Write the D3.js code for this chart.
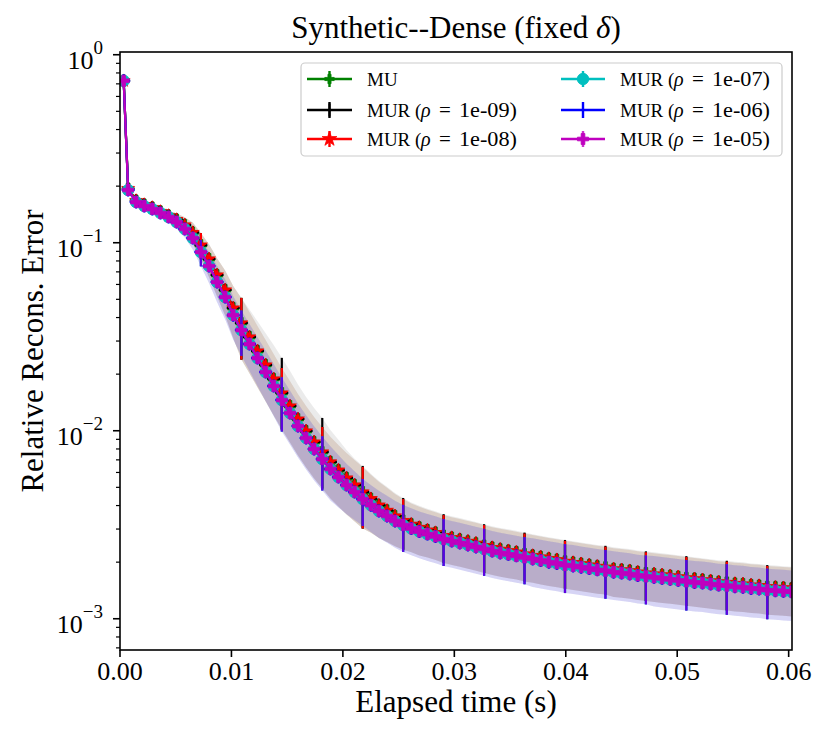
<!DOCTYPE html>
<html><head><meta charset="utf-8">
<script src="https://cdn.jsdelivr.net/npm/d3@7"></script>
<style>body{margin:0;background:#fff} svg{display:block} text{font-family:"Liberation Serif","Times New Roman",serif;fill:#000}</style>
</head><body><svg id="c" width="830" height="743"></svg>
<script>
// ---------- data ----------
const times = [0.00033,0.00073,0.00145,0.00218,0.00290,0.00363,0.00436,0.00508,0.00581,0.00653,0.00726,0.00799,0.00871,0.00944,0.01016,0.01089,0.01162,0.01234,0.01307,0.01379,0.01452,0.01525,0.01597,0.01670,0.01742,0.01815,0.01888,0.01960,0.02033,0.02105,0.02178,0.02251,0.02323,0.02396,0.02468,0.02541,0.02614,0.02686,0.02759,0.02831,0.02904,0.02977,0.03049,0.03122,0.03194,0.03267,0.03340,0.03412,0.03485,0.03557,0.03630,0.03703,0.03775,0.03848,0.03920,0.03993,0.04066,0.04138,0.04211,0.04283,0.04356,0.04429,0.04501,0.04574,0.04646,0.04719,0.04792,0.04864,0.04937,0.05009,0.05082,0.05155,0.05227,0.05300,0.05372,0.05445,0.05518,0.05590,0.05663,0.05735,0.05808,0.05881,0.05953,0.06026];

// MU, MUR 1e-09, MUR 1e-08 (slightly higher group)
const upperMean = [0.727,0.1942,0.1676,0.1596,0.1539,0.1466,0.1395,0.1328,0.1242,0.1133,0.0971,0.0819,0.0673,0.0560,0.0449,0.0374,0.0315,0.02653,0.02235,0.01883,0.01586,0.01353,0.01153,0.00996,0.00870,0.00770,0.00682,0.00617,0.00560,0.00514,0.00472,0.00435,0.00402,0.00377,0.00352,0.00333,0.00318,0.00306,0.00296,0.00287,0.00277,0.00270,0.00264,0.00258,0.00252,0.00245,0.00239,0.00234,0.00230,0.00226,0.00221,0.00217,0.00213,0.00209,0.00206,0.00202,0.00199,0.00196,0.00193,0.00190,0.00188,0.00184,0.00182,0.00180,0.00177,0.00175,0.00173,0.00171,0.00169,0.00167,0.00165,0.00163,0.00161,0.00159,0.00157,0.00156,0.00154,0.00153,0.00151,0.00150,0.00148,0.00147,0.00146,0.00145];
// std of MU and MUR 1e-08
const upperStd = [0.0145,0.0058,0.0050,0.0048,0.0062,0.0073,0.0084,0.0106,0.0124,0.0147,0.0155,0.0164,0.0155,0.0151,0.0139,0.0135,0.01134,0.00955,0.00805,0.00678,0.00571,0.00487,0.00415,0.00359,0.00313,0.00277,0.00246,0.00222,0.00202,0.00185,0.00170,0.00148,0.00133,0.00121,0.00109,0.000999,0.000922,0.000887,0.000844,0.000818,0.000789,0.000770,0.000752,0.000735,0.000718,0.000698,0.000681,0.000667,0.000656,0.000644,0.000630,0.000618,0.000607,0.000596,0.000587,0.000576,0.000567,0.000559,0.000550,0.000542,0.000536,0.000534,0.000528,0.000522,0.000513,0.000508,0.000502,0.000496,0.000490,0.000484,0.000479,0.000473,0.000467,0.000461,0.000455,0.000452,0.000447,0.000444,0.000438,0.000435,0.000429,0.000426,0.000423,0.000421];
// upper spread of MUR 1e-09 (larger)
const mur9ErrPlus = [0.0145,0.0058,0.0050,0.0048,0.0062,0.0073,0.0084,0.0106,0.0124,0.0147,0.0155,0.0164,0.0155,0.0151,0.0139,0.0135,0.0126,0.0117,0.0107,0.00979,0.00856,0.00731,0.00611,0.00518,0.00452,0.00400,0.00327,0.00278,0.00230,0.00195,0.00178,0.00156,0.00140,0.00127,0.00115,0.00106,0.000975,0.000935,0.000890,0.000860,0.000830,0.000810,0.000790,0.000772,0.000754,0.000733,0.000715,0.000700,0.000689,0.000676,0.000662,0.000649,0.000637,0.000626,0.000616,0.000605,0.000595,0.000587,0.000578,0.000569,0.000563,0.000561,0.000554,0.000548,0.000539,0.000533,0.000527,0.000521,0.000515,0.000508,0.000503,0.000497,0.000490,0.000484,0.000478,0.000475,0.000469,0.000466,0.000460,0.000457,0.000450,0.000447,0.000444,0.000442];

// MUR 1e-07, 1e-06, 1e-05 (slightly lower group)
const lowerMean = [0.727,0.1907,0.1646,0.1567,0.1511,0.1439,0.1370,0.1288,0.1183,0.1059,0.0892,0.0752,0.0618,0.0514,0.0412,0.0343,0.0289,0.02436,0.02052,0.01729,0.01456,0.01242,0.01059,0.00915,0.00799,0.00707,0.00626,0.00567,0.00514,0.00472,0.00433,0.00402,0.00374,0.00352,0.00331,0.00315,0.00302,0.00291,0.00282,0.00274,0.00265,0.00259,0.00253,0.00247,0.00241,0.00235,0.00229,0.00224,0.00220,0.00216,0.00212,0.00208,0.00204,0.00200,0.00197,0.00193,0.00191,0.00188,0.00185,0.00182,0.00180,0.00177,0.00175,0.00173,0.00170,0.00168,0.00166,0.00164,0.00162,0.00160,0.00158,0.00156,0.00155,0.00153,0.00151,0.00150,0.00148,0.00147,0.00145,0.00144,0.00142,0.00141,0.00140,0.00139];
const lowerStd = [0.0145,0.0057,0.0049,0.0047,0.0060,0.0072,0.0082,0.0103,0.0118,0.0138,0.0143,0.0143,0.0136,0.0123,0.0107,0.00926,0.00809,0.00706,0.00616,0.00536,0.00466,0.00397,0.00339,0.00293,0.00256,0.00226,0.00200,0.00176,0.00154,0.00137,0.00121,0.00113,0.00105,0.000986,0.000927,0.000882,0.000846,0.000815,0.000790,0.000767,0.000742,0.000725,0.000708,0.000692,0.000675,0.000658,0.000641,0.000627,0.000616,0.000605,0.000594,0.000603,0.000592,0.000580,0.000571,0.000560,0.000554,0.000545,0.000537,0.000528,0.000522,0.000513,0.000508,0.000502,0.000493,0.000487,0.000498,0.000492,0.000486,0.000480,0.000474,0.000468,0.000465,0.000459,0.000453,0.000450,0.000444,0.000441,0.000435,0.000432,0.000426,0.000423,0.000420,0.000417];

const xTicks = [0, 0.01, 0.02, 0.03, 0.04, 0.05, 0.06];
const yTicks = [1, 0.1, 0.01, 0.001];
const yTickExp = ["0", "\u22121", "\u22122", "\u22123"];
const errEvery = 5;

const series = [
  {label:"MU", rho:null, color:"#008000", marker:"P", mean:upperMean, plus:upperStd, minus:upperStd, errOp:1},
  {label:"MUR", rho:"1e-09", color:"#000000", marker:"+", mean:upperMean, plus:mur9ErrPlus, minus:upperStd, errOp:1},
  {label:"MUR", rho:"1e-08", color:"#ff0000", marker:"*", mean:upperMean, plus:upperStd, minus:upperStd, errOp:1},
  {label:"MUR", rho:"1e-07", color:"#00bfbf", marker:"o", mean:lowerMean, plus:lowerStd, minus:lowerStd, errOp:1},
  {label:"MUR", rho:"1e-06", color:"#0000ff", marker:"+", mean:lowerMean, plus:lowerStd, minus:lowerStd, errOp:1},
  {label:"MUR", rho:"1e-05", color:"#bf00bf", marker:"P", mean:lowerMean, plus:lowerStd, minus:lowerStd, errOp:0.5}
];

// ---------- layout ----------
const L=120, R=792, T=52, B=650;
const x = d3.scaleLinear().domain([0, 0.0603]).range([L, R]);
const y = d3.scaleLog().domain([6.82e-4, 1.034]).range([B, T]);
const svg = d3.select("#c");

svg.append("defs").append("clipPath").attr("id","clip")
  .append("rect").attr("x",L).attr("y",T).attr("width",R-L).attr("height",B-T);

const plot = svg.append("g").attr("clip-path","url(#clip)");

function drawMarker(g, type, cx, cy, color, scale) {
  scale = scale || 1;
  if (type === "P") {
    g.append("path").attr("d", d3.symbol(d3.symbolCross, 68*scale*scale)())
      .attr("transform",`translate(${cx},${cy})`).attr("fill",color).attr("stroke",color).attr("stroke-width",0.8);
  } else if (type === "+") {
    const r = 6.5*scale;
    g.append("path").attr("d",`M${cx-r},${cy}H${cx+r}M${cx},${cy-r}V${cy+r}`)
      .attr("stroke",color).attr("stroke-width",2).attr("fill","none");
  } else if (type === "*") {
    g.append("path").attr("d", d3.symbol(d3.symbolStar, 52*scale*scale)())
      .attr("transform",`translate(${cx},${cy})`).attr("fill",color).attr("stroke",color).attr("stroke-width",0.8);
  } else if (type === "o") {
    g.append("circle").attr("cx",cx).attr("cy",cy).attr("r",5.8*scale)
      .attr("fill",color).attr("stroke",color).attr("stroke-width",0.8);
  }
}

// shaded bands (below all lines)
series.forEach(s => {
  const area = d3.area()
    .x((d,i) => x(times[i]))
    .y0((d,i) => y(s.mean[i] - s.minus[i]))
    .y1((d,i) => y(s.mean[i] + s.plus[i]));
  plot.append("path").datum(s.mean).attr("d", area)
    .attr("fill", s.color).attr("fill-opacity", 0.08);
});

// error bars, lines, markers per series
series.forEach(s => {
  const g = plot.append("g");
  times.forEach((t,i) => {
    if (i % errEvery !== 0) return;
    g.append("line").attr("x1",x(t)).attr("x2",x(t))
      .attr("y1", y(s.mean[i] - s.minus[i])).attr("y2", y(s.mean[i] + s.plus[i]))
      .attr("stroke", s.color).attr("stroke-width", 2.2).attr("stroke-opacity", s.errOp);
  });
  const line = d3.line().x((d,i) => x(times[i])).y(d => y(d));
  g.append("path").datum(s.mean).attr("d", line)
    .attr("fill","none").attr("stroke", s.color).attr("stroke-width", 2.2);
  s.mean.forEach((v,i) => drawMarker(g, s.marker, x(times[i]), y(v), s.color, 1));
});

// ---------- axes ----------
const ax = svg.append("g");
ax.append("rect").attr("x",L).attr("y",T).attr("width",R-L).attr("height",B-T)
  .attr("fill","none").attr("stroke","#000").attr("stroke-width",1.6);

xTicks.forEach(t => {
  const px = x(t);
  ax.append("line").attr("x1",px).attr("x2",px).attr("y1",B).attr("y2",B+7)
    .attr("stroke","#000").attr("stroke-width",1.6);
  ax.append("text").attr("x",px).attr("y",680).attr("text-anchor","middle")
    .attr("font-size",26).text(d3.format(".2f")(t));
});

// minor y ticks
for (let e = -4; e <= 0; e++) {
  for (let k = 2; k <= 9; k++) {
    const v = k * Math.pow(10, e);
    const [lo, hi] = y.domain();
    if (v < lo || v > hi) continue;
    ax.append("line").attr("x1",L-4).attr("x2",L).attr("y1",y(v)).attr("y2",y(v))
      .attr("stroke","#000").attr("stroke-width",1.2);
  }
}
yTicks.forEach((t,k) => {
  const py = y(t);
  ax.append("line").attr("x1",L-7).attr("x2",L).attr("y1",py).attr("y2",py)
    .attr("stroke","#000").attr("stroke-width",1.6);
  const tx = ax.append("text").attr("x",103).attr("y",py+14).attr("text-anchor","end").attr("font-size",26);
  tx.append("tspan").text("10");
  tx.append("tspan").attr("dy",-15).attr("font-size",19).text(yTickExp[k]);
});

// axis labels & title
svg.append("text").attr("x",(L+R)/2).attr("y",712).attr("text-anchor","middle")
  .attr("font-size",31).text("Elapsed time (s)");
svg.append("text").attr("transform",`translate(43,${(T+B)/2}) rotate(-90)`).attr("text-anchor","middle")
  .attr("font-size",31).text("Relative Recons. Error");
const title = svg.append("text").attr("x",(L+R)/2).attr("y",38).attr("text-anchor","middle").attr("font-size",31);
title.append("tspan").text("Synthetic--Dense (fixed ");
title.append("tspan").attr("font-style","italic").text("\u03B4");
title.append("tspan").text(")");

// ---------- legend ----------
const lg = svg.append("g");
lg.append("rect").attr("x",301).attr("y",63).attr("width",481).attr("height",93).attr("rx",4)
  .attr("fill","#fff").attr("fill-opacity",0.8).attr("stroke","#cccccc").attr("stroke-width",1.2);
const cols = [{lx0:307, lx1:352, tx:367}, {lx0:561, lx1:605, tx:620}];
const rows = [79, 110, 139];
series.forEach((s,k) => {
  const c = cols[Math.floor(k/3)], ry = rows[k%3], cx = (c.lx0+c.lx1)/2;
  lg.append("line").attr("x1",cx).attr("x2",cx).attr("y1",ry-8).attr("y2",ry+8)
    .attr("stroke",s.color).attr("stroke-width",2.4).attr("stroke-opacity", s.errOp === 1 ? 1 : 0.8);
  lg.append("line").attr("x1",c.lx0).attr("x2",c.lx1).attr("y1",ry).attr("y2",ry)
    .attr("stroke",s.color).attr("stroke-width",2.4);
  drawMarker(lg, s.marker, cx, ry, s.color, s.marker === "*" ? 1.15 : (k === 0 ? 0.85 : 1));
  const by = ry + 7;
  if (s.rho === null) {
    lg.append("text").attr("x",c.tx).attr("y",by).attr("font-size",19).text(s.label);
  } else {
    lg.append("text").attr("x",c.tx).attr("y",by).attr("font-size",19).text(s.label + " (");
    lg.append("text").attr("x",c.tx+54).attr("y",by).attr("font-size",20).attr("font-style","italic").text("\u03C1");
    lg.append("text").attr("x",c.tx+72).attr("y",by).attr("font-size",21).text("=");
    lg.append("text").attr("x",c.tx+92).attr("y",by).attr("font-size",20)
      .attr("textLength",58).attr("lengthAdjust","spacingAndGlyphs").text(s.rho + ")");
  }
});
</script>
</body></html>
